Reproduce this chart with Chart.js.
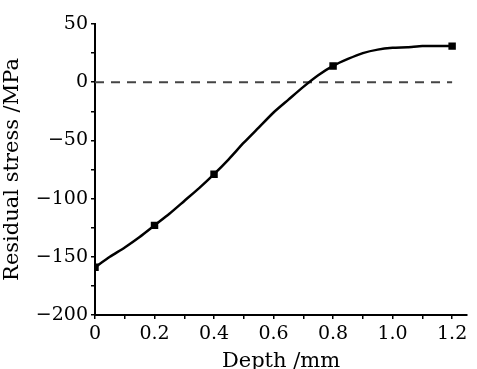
<!DOCTYPE html>
<html lang="en">
<head>
    <meta charset="UTF-8">
    <title>Residual stress vs depth</title>
    <script src="https://cdn.jsdelivr.net/npm/chart.js"></script>
    <style>
        html, body { margin: 0; padding: 0; background: #fff; }
        #wrap { width: 477px; height: 369px; }
    </style>
</head>
<body>
    <div id="wrap"><canvas id="stressChart" width="477" height="369"></canvas></div>

    <script>
        const depth = [0, 0.05, 0.1, 0.15, 0.2, 0.25, 0.3, 0.35, 0.4, 0.45, 0.5, 0.55, 0.6,
                       0.65, 0.7, 0.75, 0.8, 0.85, 0.9, 0.95, 1.0, 1.05, 1.1, 1.15, 1.2];
        const stress = [-159, -150, -142, -133, -123, -113, -102, -91, -79, -66, -52, -39, -26,
                        -15, -4, 6, 14, 20, 25, 28, 29.5, 30, 31, 31, 31];
        // Depths where the curve carries a marker
        const markedDepths = [0, 0.2, 0.4, 0.8, 1.2];
        // Zero reference line
        const zeroX = [0, 1.2];
        const zeroY = [0, 0];

        const xTicks = [0, 0.1, 0.2, 0.3, 0.4, 0.5, 0.6, 0.7, 0.8, 0.9, 1.0, 1.1, 1.2];
        const xLabels = [0, 0.2, 0.4, 0.6, 0.8, 1.0, 1.2];
        const yTicks = [-200, -175, -150, -125, -100, -75, -50, -25, 0, 25, 50];
        const yLabels = [-200, -150, -100, -50, 0, 50];

        const serif = '"DejaVu Serif", "Liberation Serif", serif';

        function fmtNum(v) {
            return (v < 0 ? '\u2212' : '') + Math.abs(v);
        }

        const ctx = document.getElementById('stressChart').getContext('2d');
        new Chart(ctx, {
            type: 'line',
            data: {
                datasets: [{
                    data: depth.map((d, i) => ({ x: d, y: stress[i] })),
                    borderColor: '#000',
                    backgroundColor: '#000',
                    borderWidth: 2.5,
                    pointStyle: 'rect',
                    pointRadius: depth.map(d => markedDepths.some(m => Math.abs(m - d) < 1e-6) ? 3.5 : 0),
                    tension: 0.2
                }, {
                    data: zeroX.map((d, i) => ({ x: d, y: zeroY[i] })),
                    borderColor: '#444',
                    borderWidth: 2,
                    borderDash: [9, 7],
                    pointRadius: 0
                }]
            },
            options: {
                responsive: false,
                animation: false,
                layout: { padding: { top: 24, right: 10, left: 0, bottom: -5 } },
                plugins: { legend: { display: false }, tooltip: { enabled: false } },
                scales: {
                    x: {
                        type: 'linear',
                        min: 0,
                        max: 1.25,
                        afterBuildTicks: s => { s.ticks = xTicks.map(v => ({ value: v })); },
                        afterFit: s => { s.height = 59; },
                        border: { display: true, color: '#000', width: 2 },
                        grid: { drawOnChartArea: false, drawTicks: true, tickLength: 4, color: '#000', lineWidth: 1.5 },
                        ticks: {
                            color: '#000',
                            font: { family: serif, size: 19 },
                            padding: 4,
                            maxRotation: 0,
                            autoSkip: false,
                            callback: v => xLabels.some(l => Math.abs(l - v) < 1e-6) ? (v === 0 ? '0' : v.toFixed(1)) : ''
                        },
                        title: {
                            display: true,
                            text: 'Depth /mm',
                            color: '#000',
                            font: { family: serif, size: 21 },
                            padding: { top: 0, bottom: 0 }
                        }
                    },
                    y: {
                        min: -200,
                        max: 50,
                        afterBuildTicks: s => { s.ticks = yTicks.map(v => ({ value: v })); },
                        afterFit: s => { s.width = 95; },
                        border: { display: true, color: '#000', width: 2 },
                        grid: { drawOnChartArea: false, drawTicks: true, tickLength: 4, color: '#000', lineWidth: 1.5 },
                        ticks: {
                            color: '#000',
                            font: { family: serif, size: 19 },
                            padding: 3,
                            autoSkip: false,
                            callback: v => yLabels.includes(v) ? fmtNum(v) : ''
                        },
                        title: {
                            display: true,
                            text: 'Residual stress /MPa',
                            color: '#000',
                            font: { family: serif, size: 21 },
                            padding: { top: 0, bottom: 0 }
                        }
                    }
                }
            }
        });
    </script>
</body>
</html>
